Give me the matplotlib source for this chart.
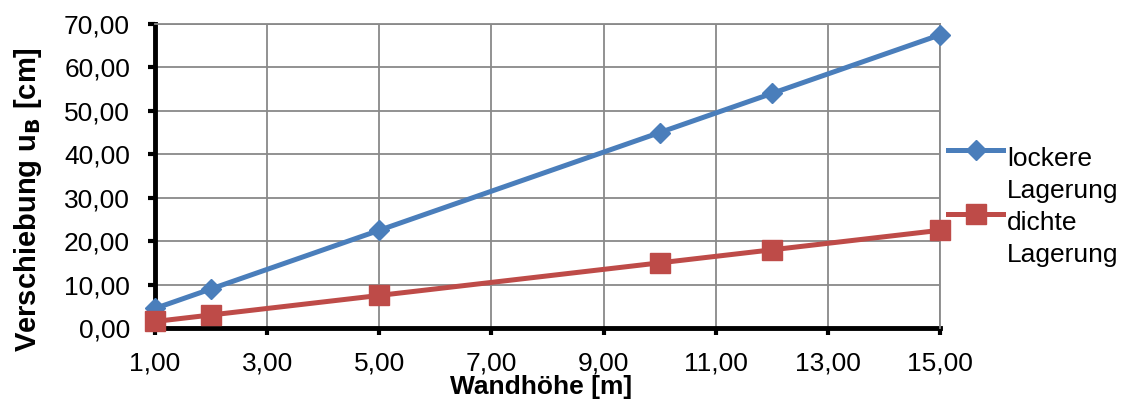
import matplotlib.pyplot as plt
from matplotlib.ticker import FuncFormatter
from matplotlib.legend_handler import HandlerLine2D

plt.rcParams['font.family'] = ['Liberation Sans', 'DejaVu Sans']

hoehe = [1, 2, 5, 10, 12, 15]
locker = [4.5, 9.0, 22.5, 45.0, 54.0, 67.5]
dicht = [1.5, 3.0, 7.5, 15.0, 18.0, 22.5]
x_ticks = [1, 3, 5, 7, 9, 11, 13, 15]
y_ticks = [0, 10, 20, 30, 40, 50, 60, 70]

FS = 19


class TopLineHandler(HandlerLine2D):
    # put the legend handle next to the first text line, like Excel does
    def create_artists(self, legend, orig_handle, xdescent, ydescent,
                       width, height, fontsize, trans):
        arts = super().create_artists(legend, orig_handle, xdescent, ydescent,
                                      width, height, fontsize, trans)
        for a in arts:
            a.set_ydata([y + 0.95 * fontsize for y in a.get_ydata()])
        return arts


fig = plt.figure(figsize=(11.28, 4.01), dpi=100)
ax = fig.add_axes([155 / 1128, 73 / 401, 785 / 1128, 304 / 401])

l1, = ax.plot(hoehe, locker, color='#4a7ebb', lw=3.6, marker='D', ms=10,
              label='lockere\nLagerung', clip_on=False, zorder=3)
l2, = ax.plot(hoehe, dicht, color='#be4b48', lw=3.6, marker='s', ms=14,
              label='dichte\nLagerung', clip_on=False, zorder=3)

ax.set_xlim(1, 15)
ax.set_ylim(0, 70)
ax.set_xticks(x_ticks)
ax.set_yticks(y_ticks)
fmt = FuncFormatter(lambda v, p: f'{v:.2f}'.replace('.', ','))
ax.xaxis.set_major_formatter(fmt)
ax.yaxis.set_major_formatter(fmt)
ax.tick_params(labelsize=FS, width=3, length=5, direction='out', color='black')
ax.tick_params(axis='y', pad=13)
ax.tick_params(axis='x', pad=12)

ax.grid(True, color='#898989', lw=1.3)
ax.set_axisbelow(True)
for s in ['top', 'right']:
    ax.spines[s].set_color('#898989')
    ax.spines[s].set_linewidth(1.3)
for s in ['left', 'bottom']:
    ax.spines[s].set_linewidth(3.5)
    ax.spines[s].set_zorder(2)

ax.set_xlabel('Wandhöhe [m]', fontsize=FS, fontweight='bold')
ax.xaxis.set_label_coords(0.492, -0.155)
ax.set_ylabel(r'Verschiebung u$_\mathbf{B}$ [cm]', fontsize=21, fontweight='bold')
ax.yaxis.set_label_coords(-0.142, 0.424)

leg = ax.legend(handler_map={l1: TopLineHandler(), l2: TopLineHandler()},
                loc='center left', bbox_to_anchor=(940 / 1128, 1 - 207 / 401),
                bbox_transform=fig.transFigure, frameon=False, fontsize=FS,
                handlelength=2.1, handletextpad=0.15, labelspacing=0.33,
                borderaxespad=0, borderpad=0.3)
for t in leg.get_texts():
    t.set_linespacing(1.4)

fig.savefig('out.png', dpi=100)
